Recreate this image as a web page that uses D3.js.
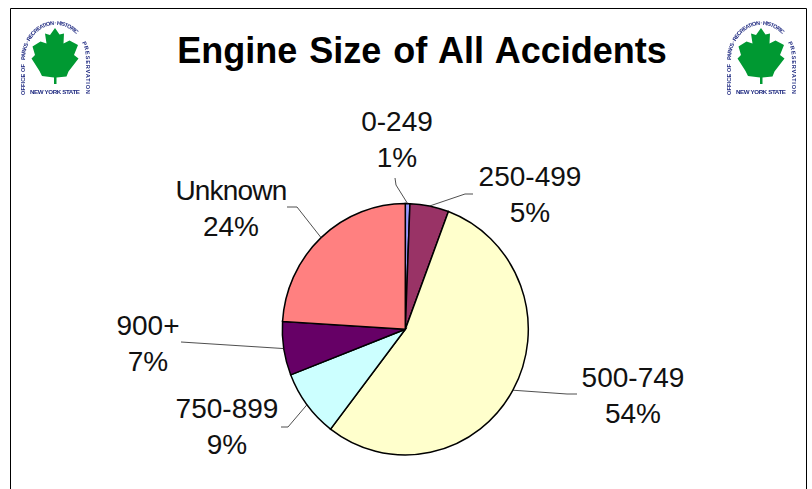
<!DOCTYPE html>
<html>
  <head>
    <meta charset="utf-8">
    <title>Engine Size of All Accidents</title>
    <script src="https://cdn.jsdelivr.net/npm/d3@7"></script>
    <style>
      html, body { margin: 0; padding: 0; background: #fff; }
      svg { display: block; font-family: "Liberation Sans", Arial, sans-serif; }
    </style>
  </head>
  <body>
    <div id="grafica"></div>
    <script>
      // values
      var categories = ["0-249", "250-499", "500-749", "750-899", "900+", "Unknown"];
      var shares = [0.6, 5.1, 54.7, 8.7, 6.9, 24.0];
      var shareLabels = ["1%", "5%", "54%", "9%", "7%", "24%"];
      var sliceColors = ["#9999ff", "#993366", "#ffffcc", "#ccffff", "#660066", "#ff8080"];

      // where each label sits, and the elbow of its leader line
      var labelSpots = [[397, 131], [530, 186], [633, 387], [227, 418], [148, 335], [231, 200]];
      var elbows = [[[395, 178], [396, 185]], [[473, 194], [465, 194]], [[577, 394], [567, 394]],
                    [[281, 427], [288, 427]], [[181, 342]], [[287, 207], [297, 207]]];

      // the logo's ring of text, cut in three so it stays clear of the bottom line
      var ringWords = ["OFFICE OF", "PARKS \u00b7 RECREATION \u00b7 HISTORIC", "PRESERVATION"];
      var ringPaths = ["M25,95V63", "M25,60A30.5,35 0 0 1 77,35", "M82,42.5Q86,50 86,60V95"];
      var ringLengths = [31, 75, 52];

      var width = 812, height = 489;
      // the pie is a little taller than it is wide in the picture
      var cx = 405.3, cy = 329.3, radius = 123, stretch = 1.022;

      var svg = d3.select("#grafica").append("svg")
          .attr("width", width)
          .attr("height", height);

      svg.append("defs").append("filter")
          .attr("id", "soft")
          .append("feGaussianBlur")
          .attr("stdDeviation", 0.45);

      // frame, open at the bottom
      svg.append("path")
          .attr("d", "M10.5,489V8.5H806.5V489")
          .attr("fill", "none")
          .attr("stroke", "#000")
          .attr("stroke-width", 1);

      svg.append("text")
          .attr("x", 422)
          .attr("y", 63)
          .attr("text-anchor", "middle")
          .attr("font-size", 36)
          .attr("font-weight", "bold")
          .attr("word-spacing", 2)
          .text("Engine Size of All Accidents");

      function drawLogo(x, y) {
        var g = svg.append("g")
            .attr("transform", "translate(" + x + "," + y + ")")
            .attr("filter", "url(#soft)");

        g.append("path")
            .attr("d", "M55,28L59.5,34.5L64,33.5L63.5,43.5L69.5,40.5L78,45L74,55L78.5,58.5L68.5,71.5L66.5,76.5L56.5,77.5V84H54V77.5L42,76L39.5,71L31.5,58.5L35,55L32.5,46.5L40.5,41.5L46.5,43.5L45,33.5L50,35Z")
            .attr("fill", "#009933");

        ringWords.forEach(function(words, i) {
          var id = "ring" + x + "-" + i;
          g.append("path")
              .attr("id", id)
              .attr("d", ringPaths[i])
              .attr("fill", "none");

          g.append("text")
              .attr("font-size", 5.6)
              .attr("font-weight", "bold")
              .attr("fill", "#1f2a80")
              .append("textPath")
              .attr("href", "#" + id)
              .attr("textLength", ringLengths[i])
              .text(words);
        });

        g.append("text")
            .attr("x", 55)
            .attr("y", 94)
            .attr("text-anchor", "middle")
            .attr("font-size", 6.2)
            .attr("font-weight", "bold")
            .attr("fill", "#1f2a80")
            .attr("textLength", 50)
            .text("NEW YORK STATE");
      }
      drawLogo(0, 0);
      drawLogo(706, 0);

      var pie = d3.pie().sort(null)(shares);
      var arc = d3.arc().innerRadius(0).outerRadius(radius);

      var chart = svg.append("g")
          .attr("transform", "translate(" + cx + "," + cy + ") scale(1," + stretch + ")");

      chart.selectAll(".slice")
          .data(pie)
          .enter().append("path")
          .attr("class", "slice")
          .attr("d", arc)
          .attr("fill", function(d, i) { return sliceColors[i]; })
          .attr("stroke", "#000")
          .attr("stroke-width", 1.5);

      // leader lines run from the middle of each slice's rim to its elbow
      var line = d3.line();
      svg.selectAll(".leader")
          .data(pie)
          .enter().append("path")
          .attr("class", "leader")
          .attr("fill", "none")
          .attr("stroke", "#222")
          .attr("stroke-width", 0.8)
          .attr("d", function(d, i) {
            var mid = (d.startAngle + d.endAngle) / 2;
            var rim = [cx + radius * Math.sin(mid), cy - radius * stretch * Math.cos(mid)];
            return line(elbows[i].concat([rim]));
          });

      var label = svg.selectAll(".label")
          .data(categories)
          .enter().append("text")
          .attr("class", "label")
          .attr("text-anchor", "middle")
          .attr("font-size", 28)
          .attr("fill", "#111");

      label.append("tspan")
          .attr("x", function(d, i) { return labelSpots[i][0]; })
          .attr("y", function(d, i) { return labelSpots[i][1]; })
          .attr("letter-spacing", function(d) { return d === "Unknown" ? -0.8 : 0; })
          .text(function(d) { return d; });

      label.append("tspan")
          .attr("x", function(d, i) { return labelSpots[i][0]; })
          .attr("y", function(d, i) { return labelSpots[i][1] + 36; })
          .text(function(d, i) { return shareLabels[i]; });
    </script>
  </body>
</html>
